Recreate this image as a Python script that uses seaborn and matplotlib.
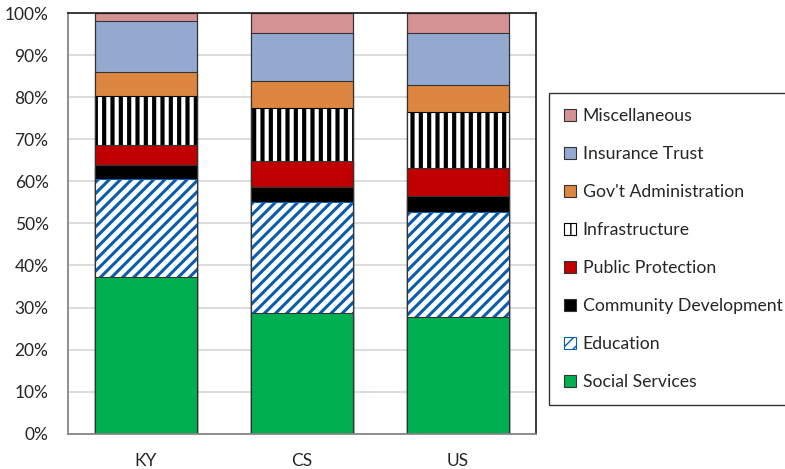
import matplotlib
matplotlib.use("Agg")
import matplotlib.pyplot as plt
from matplotlib.patches import Patch
import numpy as np
import pandas as pd
import seaborn as sns

# spending shares (%), bottom segment first
regions = ["KY", "CS", "US"]
categories = ["Social Services", "Education", "Community Development", "Public Protection",
              "Infrastructure", "Gov't Administration", "Insurance Trust", "Miscellaneous"]
social = [37.3, 28.6, 27.7]
education = [23.3, 26.4, 25.0]
community = [3.3, 3.6, 3.9]
protection = [4.7, 6.2, 6.7]
infrastructure = [11.7, 12.8, 13.3]
admin = [5.8, 6.3, 6.3]
insurance = [12.0, 11.4, 12.4]
misc = [1.9, 4.7, 4.7]

series = [social, education, community, protection, infrastructure, admin, insurance, misc]

# (face, edge/hatch colour, hatch, hatch linewidth)
styles = [
    ("#00B050", "#333333", None, 1.0),
    ("white", "#0A5CAD", "///", 2.2),
    ("black", "#333333", None, 1.0),
    ("#C00000", "#333333", None, 1.0),
    ("white", "black", "||", 3.0),
    ("#DC8640", "#333333", None, 1.0),
    ("#93A9CF", "#333333", None, 1.0),
    ("#D59294", "#333333", None, 1.0),
]

sns.set_style("white")
plt.rcParams["font.family"] = ["Lato", "DejaVu Sans"]

fig = plt.figure(figsize=(7.85, 4.69), dpi=100)
ax = fig.add_axes([68 / 785, 1 - 433.5 / 469, 468 / 785, 420 / 469])

cum = np.cumsum(np.array(series), axis=0)

# stacked bars: draw cumulative totals from the top layer down
for i in range(len(series) - 1, -1, -1):
    face, edge, hatch, hlw = styles[i]
    df = pd.DataFrame({"region": regions, "value": cum[i]})
    n0 = len(ax.patches)
    with plt.rc_context({"hatch.linewidth": hlw}):
        sns.barplot(data=df, x="region", y="value", color=face, saturation=1,
                    width=0.66, edgecolor=edge, linewidth=0.8, ax=ax)
        for p in ax.patches[n0:]:
            p.set_facecolor(face)
            if hatch:
                p.set_hatch(hatch)
                if hasattr(p, "set_hatch_linewidth"):
                    p.set_hatch_linewidth(hlw)

# outline around each full bar
sns.barplot(x=regions, y=cum[-1], fill=False, color="#333333", width=0.66,
            linewidth=0.8, ax=ax)

ax.set_xlim(-0.5, 2.5)
ax.set_ylim(0, 100)
ax.set_xlabel("")
ax.set_ylabel("")
ax.set_yticks(range(0, 101, 10))
ax.set_yticklabels([f"{v}%" for v in range(0, 101, 10)])
ax.tick_params(axis="y", length=0, pad=14, labelsize=12.5)
ax.set_xticks([0, 1, 2])
ax.set_xticklabels(regions)
ax.tick_params(axis="x", which="major", length=0, pad=14, labelsize=12.5)
ax.set_xticks([-0.5, 0.5, 1.5, 2.5], minor=True)
ax.tick_params(axis="x", which="minor", length=5, width=1.2, color="#868686", direction="out")

ax.grid(axis="y", color="#D9D9D9", linewidth=1.3)
ax.set_axisbelow(True)
for s in ["left", "bottom"]:
    ax.spines[s].set_color("#868686")
    ax.spines[s].set_linewidth(1.3)
for s in ["top", "right"]:
    ax.spines[s].set_color("#1a1a1a")
    ax.spines[s].set_linewidth(1.2)

handles = []
for (face, edge, hatch, hlw), name in zip(styles, categories):
    with plt.rc_context({"hatch.linewidth": hlw}):
        h = Patch(facecolor=face, edgecolor=edge if hatch else "#333333", hatch=hatch,
                  linewidth=0.8, label=name)
    handles.append(h)
handles = handles[::-1]

leg = fig.legend(handles=handles, loc="upper left", bbox_to_anchor=(549 / 785, 1 - 93 / 469),
                 frameon=True, fancybox=False, edgecolor="black", fontsize=12.7,
                 handlelength=0.7, handleheight=0.7, handletextpad=0.35,
                 labelspacing=1.25, borderpad=0.85, borderaxespad=0)
leg.get_frame().set_linewidth(1.0)

fig.savefig("out.png", dpi=100)
